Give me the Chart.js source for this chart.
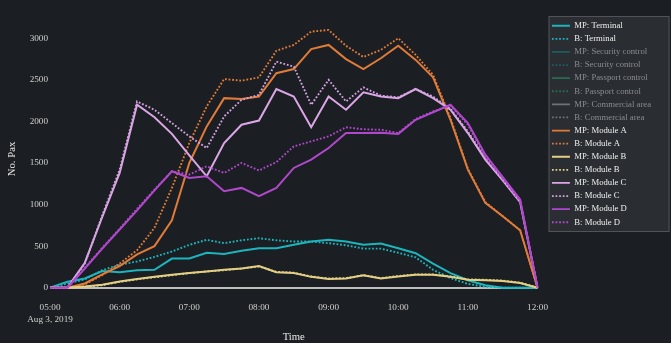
<!DOCTYPE html>
<html>
<head>
<meta charset="utf-8">
<script src="https://cdn.jsdelivr.net/npm/chart.js@4.4.1/dist/chart.umd.min.js"></script>
<style>
  html, body { margin: 0; padding: 0; background: #1b1e22; overflow: hidden; }
  #wrap { width: 671px; height: 343px; }
</style>
</head>
<body>
<div id="wrap"><canvas id="paxChart" width="671" height="343"></canvas></div>
<script>
// 15 minute steps, 05:00 - 12:00
const times = ['05:00','05:15','05:30','05:45','06:00','06:15','06:30','06:45','07:00','07:15','07:30','07:45',
  '08:00','08:15','08:30','08:45','09:00','09:15','09:30','09:45','10:00','10:15','10:30','10:45',
  '11:00','11:15','11:30','11:45','12:00'];
const dateLabel = 'Aug 3, 2019';
const yTicks = [0, 500, 1000, 1500, 2000, 2500, 3000];

const terminalMP = [0, 70, 110, 200, 185, 210, 215, 350, 350, 420, 405, 445, 475, 475, 515, 555, 575, 555, 515, 530, 475, 415, 290, 175, 90, 30, 0, 0, 0];
const terminalB  = [0, 50, 100, 210, 275, 315, 370, 435, 515, 575, 535, 570, 595, 570, 555, 555, 535, 510, 470, 470, 420, 365, 215, 115, 45, 10, 0, 0, 0];
const moduleAMP  = [0, 0, 50, 160, 260, 400, 500, 810, 1500, 1940, 2280, 2270, 2300, 2580, 2630, 2870, 2920, 2750, 2630, 2760, 2910, 2740, 2530, 2020, 1420, 1020, 860, 690, 0];
const moduleAB   = [0, 0, 40, 150, 290, 450, 720, 1200, 1740, 2180, 2510, 2490, 2530, 2850, 2920, 3080, 3100, 2910, 2775, 2860, 3000, 2800, 2560, 2040, 1430, 1030, 860, 690, 0];
const moduleBMP  = [0, 0, 15, 35, 75, 105, 130, 155, 175, 195, 215, 230, 260, 185, 175, 130, 105, 110, 150, 110, 135, 155, 155, 130, 95, 90, 80, 55, 0];
const moduleBB   = [0, 0, 10, 30, 70, 100, 125, 150, 175, 195, 210, 230, 255, 190, 180, 135, 110, 115, 150, 115, 140, 160, 160, 135, 100, 95, 85, 60, 0];
const moduleCMP  = [0, 0, 300, 850, 1380, 2200, 2050, 1850, 1590, 1340, 1740, 1960, 2010, 2390, 2300, 1930, 2300, 2140, 2350, 2300, 2280, 2390, 2280, 2140, 1860, 1540, 1290, 1030, 0];
const moduleCB   = [0, 0, 290, 870, 1420, 2240, 2140, 1980, 1820, 1680, 2060, 2260, 2320, 2720, 2660, 2200, 2500, 2240, 2410, 2310, 2290, 2390, 2300, 2150, 1880, 1560, 1300, 1040, 0];
const moduleDMP  = [0, 0, 230, 470, 700, 930, 1170, 1400, 1320, 1340, 1160, 1200, 1100, 1200, 1440, 1540, 1680, 1860, 1860, 1865, 1850, 2020, 2110, 2200, 1980, 1600, 1330, 1060, 0];
const moduleDB   = [0, 0, 240, 480, 710, 950, 1180, 1400, 1360, 1460, 1380, 1500, 1410, 1510, 1700, 1760, 1820, 1930, 1905, 1900, 1860, 2030, 2120, 2190, 1960, 1580, 1310, 1040, 0];

const serif = "'Liberation Serif', 'Times New Roman', serif";

// label, data, colour, dotted?, hidden (legend only)
const series = [
  ['MP: Terminal', terminalMP, '#1cb5bd', false, false],
  ['B: Terminal', terminalB, '#1cb5bd', true, false],
  ['MP: Security control', [], '#1d5c60', false, true],
  ['B: Security control', [], '#1d5c60', true, true],
  ['MP: Passport control', [], '#2b6a52', false, true],
  ['B: Passport control', [], '#2b6a52', true, true],
  ['MP: Commercial area', [], '#6f7276', false, true],
  ['B: Commercial area', [], '#6f7276', true, true],
  ['MP: Module A', moduleAMP, '#e07b39', false, false],
  ['B: Module A', moduleAB, '#e07b39', true, false],
  ['MP: Module B', moduleBMP, '#e2cf84', false, false],
  ['B: Module B', moduleBB, '#e2cf84', true, false],
  ['MP: Module C', moduleCMP, '#dca6e6', false, false],
  ['B: Module C', moduleCB, '#d3a2e0', true, false],
  ['MP: Module D', moduleDMP, '#b048cc', false, false],
  ['B: Module D', moduleDB, '#b048cc', true, false]
];

const datasets = series.map((s, i) => ({
  label: s[0],
  data: s[1],
  borderColor: s[2],
  backgroundColor: s[2],
  borderDash: s[3] ? [1.8, 1.8] : [],
  borderWidth: s[3] ? 1.9 : 2,
  hidden: s[4],
  pointRadius: 0,
  tension: 0,
  fill: false,
  order: series.length - i
}));

const legendBox = {
  id: 'legendBox',
  afterLayout(chart) {
    const lg = chart.legend;
    lg.left += 10; lg.right += 10;
    lg.top -= 3; lg.bottom -= 3;
  },
  beforeDraw(chart) {
    const lg = chart.legend;
    const ctx = chart.ctx;
    ctx.save();
    ctx.fillStyle = '#2a2d32';
    ctx.strokeStyle = '#505357';
    ctx.lineWidth = 1;
    ctx.fillRect(lg.left + 1, lg.top - 1, 121, 216);
    ctx.strokeRect(lg.left + 1.5, lg.top - 0.5, 120, 215);
    ctx.restore();
  }
};

new Chart(document.getElementById('paxChart'), {
  type: 'line',
  data: { labels: times, datasets: datasets },
  plugins: [legendBox],
  options: {
    responsive: false,
    devicePixelRatio: 1,
    animation: false,
    layout: { padding: { left: 0, top: 20, right: 20, bottom: 0 } },
    plugins: {
      tooltip: { enabled: false },
      legend: {
        position: 'right',
        align: 'start',
        labels: {
          usePointStyle: true,
          pointStyle: 'line',
          pointStyleWidth: 18,
          padding: 4.4,
          font: { family: serif, size: 8.7 },
          generateLabels(chart) {
            return chart.data.datasets.map((d, i) => ({
              text: d.label,
              datasetIndex: i,
              strokeStyle: d.borderColor,
              fillStyle: d.borderColor,
              lineWidth: 1.8,
              lineDash: d.borderDash,
              pointStyle: 'line',
              fontColor: d.hidden ? '#8a8c8f' : '#eeeeee',
              hidden: false
            }));
          }
        }
      }
    },
    scales: {
      x: {
        grid: { display: false, drawTicks: false },
        border: { display: false },
        ticks: {
          autoSkip: false,
          maxRotation: 0,
          padding: 4.4,
          color: '#cfcfcf',
          font: { family: serif, size: 9.2, lineHeight: 1.23 },
          callback(val, idx) {
            if (idx % 4 !== 0) return null;
            const lab = this.getLabelForValue(val);
            return idx === 0 ? [lab, dateLabel] : lab;
          }
        },
        title: {
          display: true, text: 'Time', color: '#e6e6e6',
          font: { family: serif, size: 10.7, lineHeight: 1 },
          padding: { top: 2.9, bottom: 0 }
        }
      },
      y: {
        min: -124,
        max: 3220,
        afterBuildTicks(axis) { axis.ticks = yTicks.map(v => ({ value: v })); },
        grid: {
          drawTicks: false,
          lineWidth: 2,
          color: c => (c.tick && c.tick.value === 0) ? '#bdbdbd' : 'rgba(0,0,0,0)'
        },
        border: { display: false },
        ticks: {
          padding: 2,
          color: '#cfcfcf',
          font: { family: serif, size: 9.2 },
          callback: v => String(v)
        },
        title: {
          display: true, text: 'No. Pax', color: '#e6e6e6',
          font: { family: serif, size: 10.7 },
          padding: { top: 5.3, bottom: 9.5 }
        }
      }
    }
  }
});
</script>
</body>
</html>
